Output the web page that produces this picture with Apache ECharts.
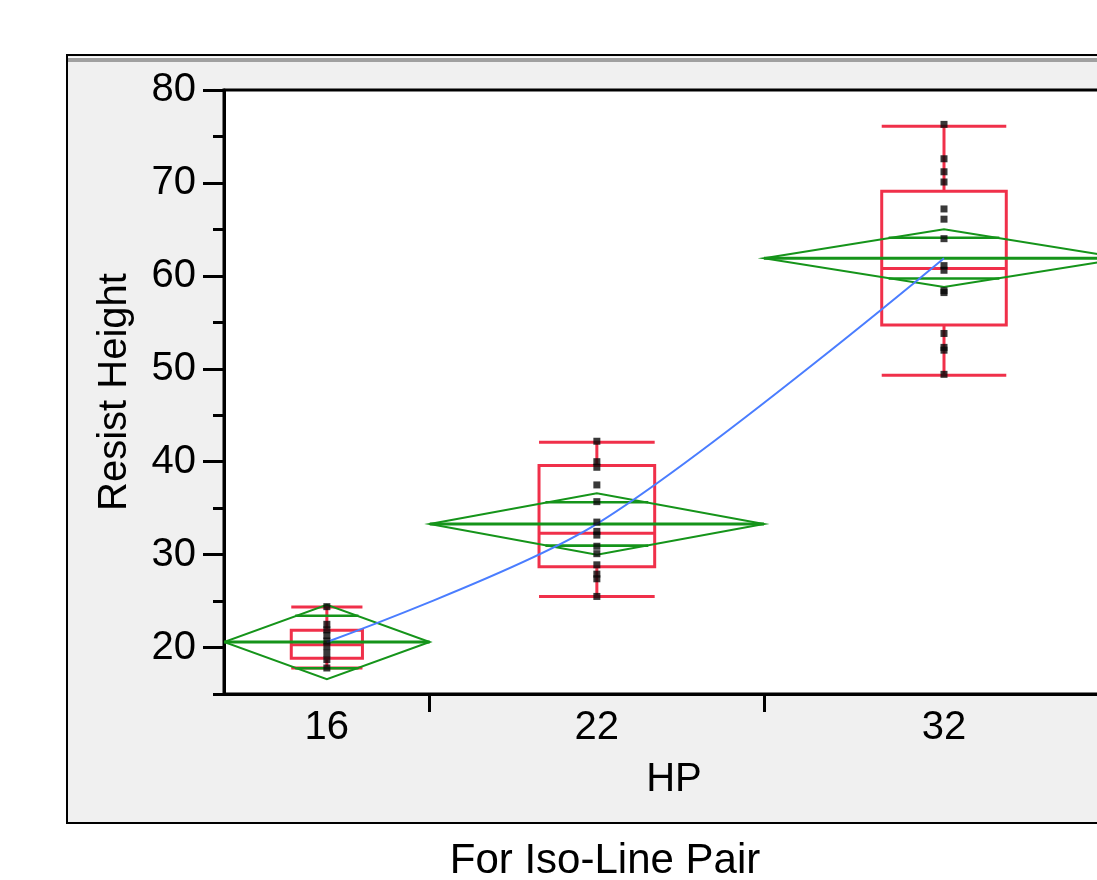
<!DOCTYPE html>
<html><head><meta charset="utf-8">
<script src="https://cdn.jsdelivr.net/npm/echarts@6/dist/echarts.min.js"></script>
<style>
html,body{margin:0;padding:0;overflow:hidden;background:#fff;width:1097px;height:880px}
#chart{width:1200px;height:880px}
</style></head>
<body><div id="chart"></div>
<script>
// ---- data ----
const categories = ['16', '22', '32'];
const groupWeights = [8, 13, 14];            // relative category widths (group sizes)
const yTicks = [20, 30, 40, 50, 60, 70, 80];
const yMinorTicks = [15, 25, 35, 45, 55, 65, 75];
const means = [20.6, 33.3, 61.9];
const ciHalf = [4.0, 3.3, 3.1];
const boxMin = [17.8, 25.5, 49.3];
const boxQ1 = [18.85, 28.7, 54.7];
const boxMedian = [20.3, 32.3, 60.8];
const boxQ3 = [21.85, 39.6, 69.1];
const boxMax = [24.35, 42.1, 76.1];
const points16 = [24.4, 22.5, 21.9, 21.3, 20.7, 20.1, 19.4, 18.7, 17.8];
const points22 = [42.2, 40.0, 39.4, 37.5, 35.7, 33.5, 32.5, 32.1, 30.9, 30.1, 28.9, 27.9, 27.4, 25.5];
const points32 = [76.3, 72.6, 71.2, 70.1, 67.2, 66.1, 64.0, 61.1, 60.6, 58.4, 58.2, 53.8, 52.3, 52.0, 49.4];
const xTitle = 'HP';
const yTitle = 'Resist Height';
const caption = 'For Iso-Line Pair';

// ---- derived ----
const bounds = [0];
groupWeights.forEach(w => bounds.push(bounds[bounds.length - 1] + w));
const centers = groupWeights.map((w, i) => bounds[i] + w / 2);
const total = bounds[bounds.length - 1];
const allPoints = [points16, points22, points32];

const RED = '#f0304a', GREEN = '#15941a', BLUE = '#4a7dff';
const FONT = 'Liberation Sans, Arial, sans-serif';

const diamondData = categories.map((c, i) => [bounds[i], bounds[i + 1], means[i], ciHalf[i]]);
const boxData = categories.map((c, i) => [bounds[i], bounds[i + 1], boxMin[i], boxQ1[i], boxMedian[i], boxQ3[i], boxMax[i]]);
const scatterData = [];
allPoints.forEach((arr, i) => arr.forEach(v => scatterData.push([centers[i], v])));
const meanLine = means.map((m, i) => [centers[i], m]);

const chart = echarts.init(document.getElementById('chart'));
chart.setOption({
  animation: false,
  backgroundColor: '#fff',
  graphic: [
    { type: 'rect', z: -10, shape: { x: 67, y: 55, width: 1300, height: 768 },
      style: { fill: '#f0f0f0', stroke: '#000', lineWidth: 2 } },
    { type: 'rect', z: -9, shape: { x: 68, y: 57, width: 1300, height: 1 }, style: { fill: '#fafafa' } },
    { type: 'rect', z: -9, shape: { x: 68, y: 58, width: 1300, height: 4 }, style: { fill: '#a0a0a0' } },
    { type: 'text', z: 100, x: 605, y: 861,
      style: { text: caption, fill: '#000', font: '42px ' + FONT, textAlign: 'center', textVerticalAlign: 'middle' } }
  ],
  grid: { left: 224, right: 76, top: 90, bottom: 186, show: true, backgroundColor: '#fff', borderColor: '#000', borderWidth: 3 },
  xAxis: {
    type: 'value', min: 0, max: total,
    name: xTitle, nameLocation: 'middle', nameGap: 66,
    nameTextStyle: { fontSize: 40, fontFamily: FONT, color: '#000' },
    axisLine: { show: true, lineStyle: { color: '#000', width: 3 } },
    axisTick: { show: true, customValues: bounds.slice(1, -1), length: 18, lineStyle: { color: '#000', width: 3 } },
    axisLabel: { show: true, customValues: centers, margin: 14, fontSize: 40, fontFamily: FONT, color: '#000',
      formatter: v => { const i = centers.findIndex(c => Math.abs(c - v) < 1e-6); return i >= 0 ? categories[i] : ''; } },
    splitLine: { show: false }
  },
  yAxis: [{
    type: 'value', min: 15, max: 80, interval: 5,
    name: yTitle, nameLocation: 'middle', nameGap: 89, nameRotate: 90,
    nameTextStyle: { fontSize: 40, fontFamily: FONT, color: '#000' },
    axisLine: { show: true, lineStyle: { color: '#000', width: 3 } },
    axisTick: { show: true, customValues: yTicks, length: 21, lineStyle: { color: '#000', width: 3 } },
    axisLabel: { show: true, customValues: yTicks, margin: 28, fontSize: 40, fontFamily: FONT, color: '#000' },
    splitLine: { show: false }
  }, {
    type: 'value', min: 15, max: 80, interval: 5, position: 'left',
    axisLine: { show: false },
    axisTick: { show: true, customValues: yMinorTicks, length: 11, lineStyle: { color: '#000', width: 3 } },
    axisLabel: { show: false }, splitLine: { show: false }
  }],
  series: [
    {
      type: 'custom', name: 'box', z: 2, clip: true, data: boxData,
      renderItem: (params, api) => {
        const l = api.value(0), r = api.value(1);
        const c = (l + r) / 2, hw = (r - l) * 0.173;
        const P = (x, y) => api.coord([x, y]);
        const st = { stroke: RED, lineWidth: 3, fill: null };
        const ln = (a, b) => ({ type: 'line', shape: { x1: a[0], y1: a[1], x2: b[0], y2: b[1] }, style: st });
        const mn = api.value(2), q1 = api.value(3), md = api.value(4), q3 = api.value(5), mx = api.value(6);
        const tl = P(c - hw, q3), br = P(c + hw, q1);
        return { type: 'group', children: [
          { type: 'rect', shape: { x: tl[0], y: tl[1], width: br[0] - tl[0], height: br[1] - tl[1] }, style: { stroke: RED, lineWidth: 3, fill: 'none' } },
          ln(P(c - hw, md), P(c + hw, md)),
          ln(P(c, q3), P(c, mx)),
          ln(P(c, q1), P(c, mn)),
          ln(P(c - hw, mx), P(c + hw, mx)),
          ln(P(c - hw, mn), P(c + hw, mn))
        ] };
      }
    },
    {
      type: 'custom', name: 'means diamonds', z: 3, clip: true, data: diamondData,
      renderItem: (params, api) => {
        const l = api.value(0), r = api.value(1), m = api.value(2), h = api.value(3);
        const c = (l + r) / 2;
        const P = (x, y) => api.coord([x, y]);
        const o = h / Math.SQRT2;
        const ow = (r - l) / 2 * (1 - 1 / Math.SQRT2) * 1.05;
        const ln = (a, b, w) => ({ type: 'line', shape: { x1: a[0], y1: a[1], x2: b[0], y2: b[1] }, style: { stroke: GREEN, lineWidth: w } });
        return { type: 'group', children: [
          { type: 'polygon', shape: { points: [P(l, m), P(c, m + h), P(r, m), P(c, m - h)] }, style: { stroke: GREEN, lineWidth: 2, fill: 'none' } },
          ln(P(l, m), P(r, m), 3),
          ln(P(c - ow, m + o), P(c + ow, m + o), 2.6),
          ln(P(c - ow, m - o), P(c + ow, m - o), 2.6)
        ] };
      }
    },
    {
      type: 'line', name: 'means', z: 4, data: meanLine, smooth: 0.3, symbol: 'none',
      lineStyle: { color: BLUE, width: 2 }
    },
    {
      type: 'scatter', name: 'points', z: 5, data: scatterData, symbol: 'rect', symbolSize: [7, 7],
      itemStyle: { color: '#080808' }
    }
  ]
});
</script>
</body></html>
